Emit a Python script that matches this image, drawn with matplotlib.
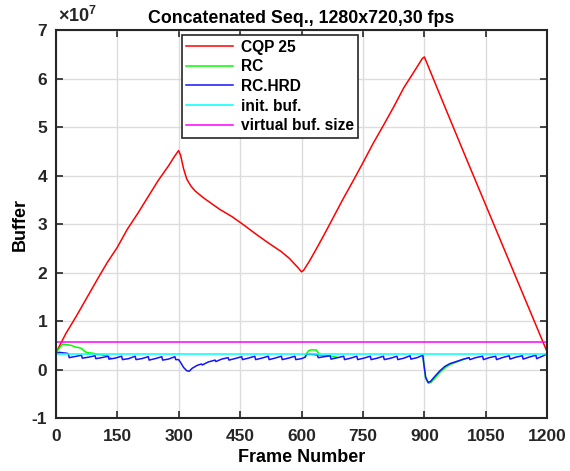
import numpy as np
import matplotlib
matplotlib.use("Agg")
import matplotlib.pyplot as plt
from matplotlib.ticker import FuncFormatter

plt.rcParams['font.family'] = ['Liberation Sans', 'DejaVu Sans']
plt.rcParams['font.weight'] = 'bold'
plt.rcParams['mathtext.fontset'] = 'custom'
plt.rcParams['mathtext.rm'] = 'Liberation Sans:bold'
plt.rcParams['mathtext.bf'] = 'Liberation Sans:bold'

# values in units of 1e7
cqp_frames = [0, 25, 50, 75, 100, 125, 150, 175, 200, 225, 250, 275, 290, 300,
              305, 312, 320, 330, 340, 360, 380, 400, 430, 460, 490, 520, 550,
              570, 590, 600, 605, 620, 640, 660, 680, 700, 725, 750, 775, 800,
              825, 850, 875, 895, 900, 950, 1000, 1050, 1100, 1150, 1200]
cqp_vals = [0.34, 0.75, 1.1, 1.47, 1.84, 2.2, 2.52, 2.9, 3.22, 3.56, 3.9, 4.2, 4.4, 4.52,
            4.42, 4.15, 3.93, 3.79, 3.69, 3.55, 3.43, 3.31, 3.16, 2.98, 2.79, 2.61, 2.44,
            2.3, 2.12, 2.02, 2.05, 2.25, 2.55, 2.86, 3.18, 3.5, 3.88, 4.27, 4.67, 5.04,
            5.42, 5.82, 6.15, 6.42, 6.45, 5.42, 4.4, 3.39, 2.38, 1.37, 0.36]

hrd_frames = [0, 8, 18, 28, 31, 33, 45, 63, 65, 80, 96, 98, 112, 128, 130, 145, 161,
              163, 178, 194, 196, 210, 226, 228, 243, 259, 261, 275, 291, 293, 300,
              305, 312, 320, 326, 333, 345, 356, 358, 372, 389, 391, 405, 421, 423,
              437, 454, 456, 470, 486, 488, 503, 519, 521, 535, 551, 553, 568, 584,
              586, 600, 609, 612, 620, 638, 641, 655, 670, 672, 688, 703, 705, 720,
              735, 737, 752, 768, 770, 785, 800, 802, 818, 833, 835, 850, 865, 867,
              882, 896, 899, 903, 909, 915, 925, 938, 950, 963, 978, 995, 1009, 1011,
              1025, 1042, 1044, 1058, 1074, 1076, 1090, 1107, 1109, 1123, 1139, 1141,
              1155, 1172, 1174, 1188, 1200]
hrd_vals = [0.33, 0.36, 0.35, 0.34, 0.33, 0.25, 0.27, 0.30, 0.24, 0.26, 0.29, 0.23, 0.25,
            0.28, 0.22, 0.24, 0.28, 0.21, 0.23, 0.28, 0.21, 0.23, 0.27, 0.20, 0.23, 0.27,
            0.20, 0.22, 0.27, 0.21, 0.21, 0.15, 0.05, -0.02, -0.03, 0.03, 0.09, 0.12,
            0.10, 0.16, 0.20, 0.17, 0.22, 0.25, 0.20, 0.23, 0.27, 0.21, 0.24, 0.28, 0.21,
            0.24, 0.28, 0.21, 0.24, 0.28, 0.21, 0.24, 0.28, 0.21, 0.23, 0.26, 0.32, 0.32,
            0.31, 0.25, 0.27, 0.29, 0.22, 0.25, 0.28, 0.21, 0.24, 0.28, 0.21, 0.24, 0.28,
            0.21, 0.24, 0.28, 0.21, 0.24, 0.28, 0.21, 0.24, 0.29, 0.22, 0.25, 0.30, 0.10,
            -0.15, -0.26, -0.24, -0.14, -0.02, 0.07, 0.13, 0.17, 0.22, 0.25, 0.21, 0.25,
            0.28, 0.21, 0.25, 0.28, 0.21, 0.25, 0.29, 0.22, 0.26, 0.29, 0.22, 0.26, 0.30,
            0.23, 0.28, 0.33]

# RC only where it leaves the RC.HRD curve (NaN breaks between pieces)
rc_frames = [0, 5, 12, 18, 25, 33, 40, 47, 55, 63, 68, 72, 80, 92, 100, 110, 124, 134,
             np.nan,
             609, 612, 617, 622, 636, 640, 643, 660, 686,
             np.nan,
             896, 899, 903, 910, 916, 926, 938, 950, 963, 978, 995, 1009]
rc_vals = [0.33, 0.40, 0.48, 0.53, 0.52, 0.51, 0.50, 0.47, 0.46, 0.44, 0.40, 0.37, 0.35,
           0.34, 0.32, 0.31, 0.29, 0.25,
           np.nan,
           0.26, 0.33, 0.39, 0.41, 0.41, 0.36, 0.30, 0.29, 0.26,
           np.nan,
           0.30, 0.08, -0.18, -0.28, -0.26, -0.17, -0.05, 0.04, 0.11, 0.16, 0.21, 0.25]

init_buf = 0.335
virtual_buf = 0.57
frame_range = [0, 1200]

fig = plt.figure(figsize=(5.7, 4.71), dpi=100)
ax = fig.add_axes([0.0977, 0.1119, 0.8625, 0.8238])

lw = 1.1
ax.plot(cqp_frames, np.array(cqp_vals) * 1e7, color='#ff0000', lw=lw, label='CQP 25')
ax.plot(rc_frames, np.array(rc_vals) * 1e7, color='#00ff00', lw=lw, label='RC')
ax.plot(hrd_frames, np.array(hrd_vals) * 1e7, color='#1414ff', lw=lw, label='RC.HRD')
ax.plot(frame_range, [init_buf * 1e7] * 2, color='#00ffff', lw=lw, label='init. buf.')
ax.plot(frame_range, [virtual_buf * 1e7] * 2, color='#ff00ff', lw=lw, label='virtual buf. size')

ax.set_xlim(0, 1200)
ax.set_ylim(-1e7, 7e7)
ax.set_xticks(np.arange(0, 1201, 150))
ax.set_yticks(np.arange(-1, 8) * 1e7)
ax.yaxis.set_major_formatter(FuncFormatter(lambda v, p: '%d' % round(v / 1e7)))
ax.grid(True, color='#dcdcdc', lw=1)
ax.set_axisbelow(True)
ax.tick_params(direction='in', length=5, width=1.2, top=True, right=True,
               labelsize=12.5, colors='#262626')
ax.tick_params(axis='x', pad=8)
ax.tick_params(axis='y', pad=6)
for s in ax.spines.values():
    s.set_color('#262626')
    s.set_linewidth(1.5)

ax.text(0.005, 1.01, r'$\times\mathbf{10^{7}}$', transform=ax.transAxes,
        fontsize=13, color='#262626', ha='left', va='bottom')

ax.set_title('Concatenated Seq., 1280x720,30 fps', fontsize=12.8, fontweight='bold', pad=5)
ax.set_xlabel('Frame Number', fontsize=13, fontweight='bold', labelpad=3)
ax.set_ylabel('Buffer', fontsize=13, fontweight='bold', labelpad=2)

leg = ax.legend(loc='upper left', bbox_to_anchor=(0.256, 0.988), fontsize=11.2,
                handlelength=3.0, labelspacing=0.3, borderpad=0.3,
                handletextpad=0.5, fancybox=False, framealpha=1, borderaxespad=0)
leg.get_frame().set_edgecolor('#262626')
leg.get_frame().set_linewidth(1.2)

fig.savefig('out.png', dpi=100)
